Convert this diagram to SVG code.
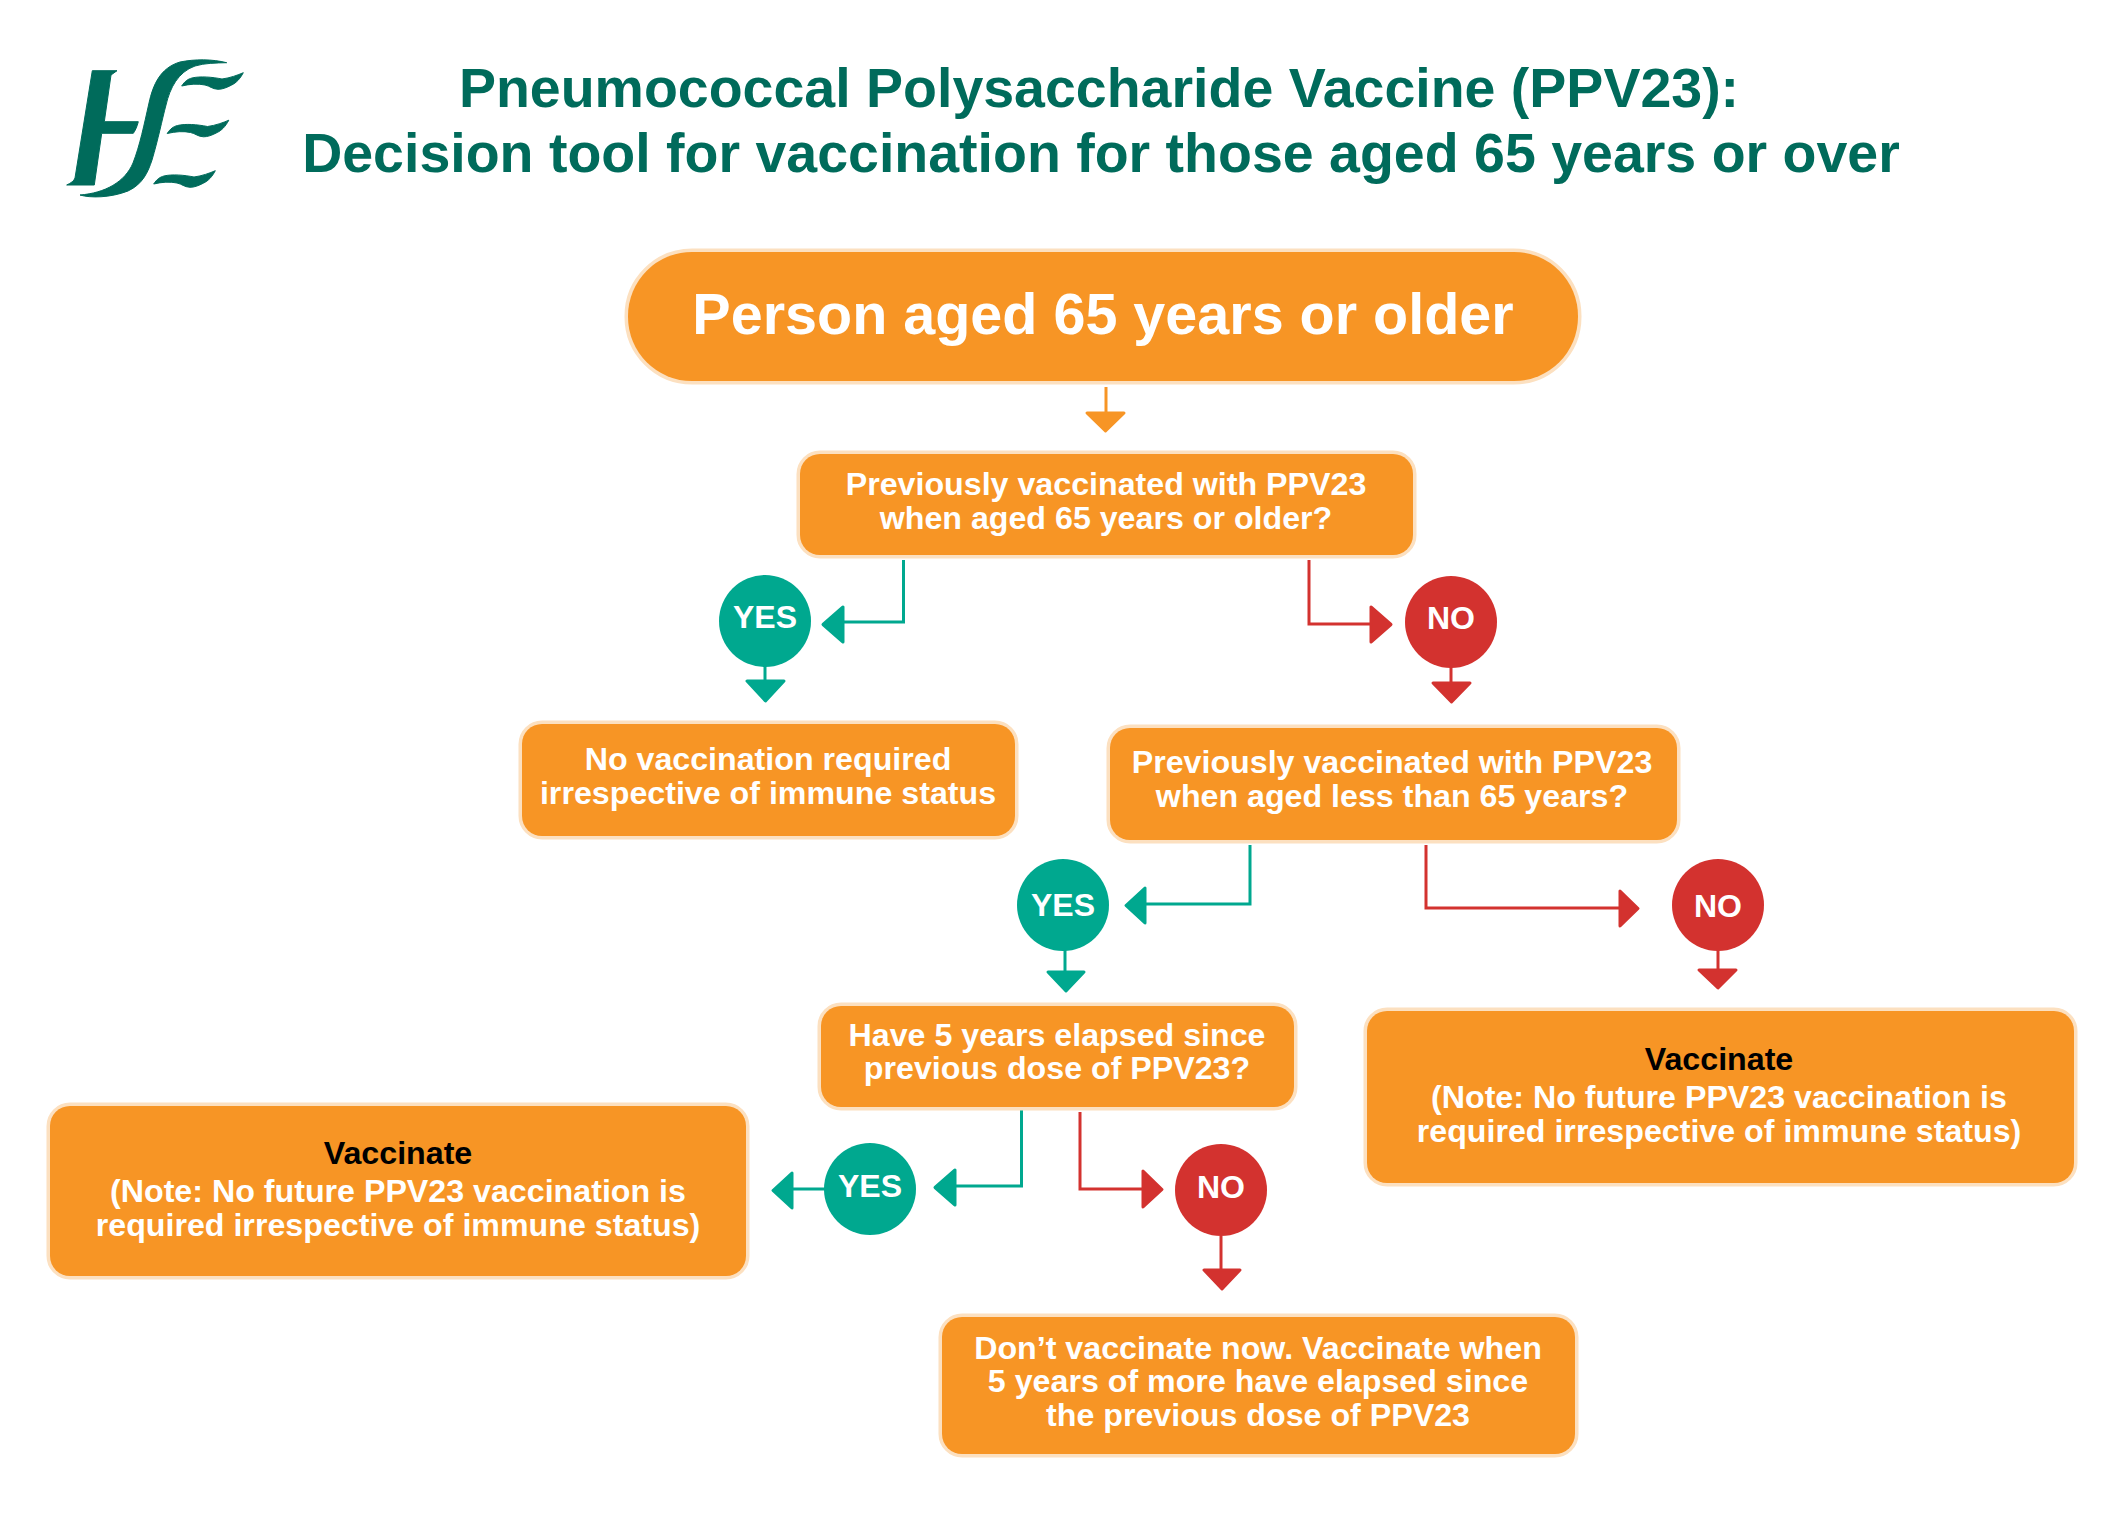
<svg xmlns="http://www.w3.org/2000/svg" width="2121" height="1518" viewBox="0 0 2121 1518">
<style>
text{font-family:"Liberation Sans",Arial,sans-serif;font-weight:700;text-anchor:middle}
.box{fill:#F79525;stroke:#FCE0C0;stroke-width:7;paint-order:stroke}
.t{fill:#fff;font-size:32.2px}
.k{fill:#000;font-size:32.2px}
.yn{fill:#fff;font-size:32px}
.title{fill:#006B5B;font-size:55.500px}
.y{fill:#00A88F}.n{fill:#D3322F}.o{fill:#F79525}
.ly{fill:none;stroke:#00A88F;stroke-width:3}
.ln{fill:none;stroke:#D3322F;stroke-width:3}
.lo{fill:none;stroke:#F79525;stroke-width:3}
.head{stroke-linejoin:round;stroke-width:3}
.logo{fill:#006B5B;stroke:#006B5B;stroke-width:1}
</style>
<defs>
<path id="wave" d="M181.700,86C185,81 188,79 192,78C200,76 212,77 222,79C230,78 238,75 243.300,72.700C240,79 236,83 231.700,85C226,88 222,89.300 218,89.300C212,89 210,86 205,85C198,83.500 190,84 181.700,86Z"/>
</defs>
<rect width="2121" height="1518" fill="#fff"/>
<g id="logo">
<path class="logo" d="M92.300,70.700H117L111,75L104.300,121.700H138.300C137,127 135,131 133.300,133.300H101.700L95,180L94.300,185H66.700C71,183 74,181 75,178Z"/>
<path class="logo" d="M226.700,62.700C212,59 195,59 180,62C160,68 153,85 149,103C144,125 140,145 133,163C125,182 105,193 80,195C90,198 110,198 128,191C143,184 148,172 152,160C158,140 162,120 166,105C170,88 178,72 195,66C205,63 216,63 226.700,62.700Z"/>
<use class="logo" href="#wave"/>
<use class="logo" href="#wave" transform="translate(-14.500,47.500)"/>
<use class="logo" href="#wave" transform="translate(-28,98)"/>
</g>
<g id="title">
<text class="title" x="1099" y="107">Pneumococcal Polysaccharide Vaccine (PPV23):</text>
<text class="title" x="1101" y="172">Decision tool for vaccination for those aged 65 years or over</text>
</g>
<g id="connectors">
<path class="lo" d="M1106,387V414"/><path class="o head" stroke="#F79525" d="M1087,413H1124L1105.500,431Z"/>
<path class="ly" d="M903.500,560V622H842"/><path class="y head" stroke="#00A88F" d="M843,607V642L823,624.500Z"/>
<path class="ln" d="M1309,560V624H1372"/><path class="n head" stroke="#D3322F" d="M1371,607V642L1391,624.500Z"/>
<path class="ly" d="M765,664V682"/><path class="y head" stroke="#00A88F" d="M747,681H784L765.500,701Z"/>
<path class="ln" d="M1451,666V684"/><path class="n head" stroke="#D3322F" d="M1433,683H1470L1451.500,702Z"/>
<path class="ly" d="M1250,845V904H1145"/><path class="y head" stroke="#00A88F" d="M1145,888V923L1126,905.500Z"/>
<path class="ln" d="M1426,845V908H1621"/><path class="n head" stroke="#D3322F" d="M1620,891V926L1638,908.500Z"/>
<path class="ly" d="M1065,950V973"/><path class="y head" stroke="#00A88F" d="M1048,972H1084L1066,991Z"/>
<path class="ln" d="M1718,950V971"/><path class="n head" stroke="#D3322F" d="M1699,970H1736L1718,988Z"/>
<path class="ly" d="M1021.500,1110V1186H953"/><path class="y head" stroke="#00A88F" d="M955,1170V1205L935,1187.500Z"/>
<path class="ly" d="M825,1189H790"/><path class="y head" stroke="#00A88F" d="M792,1173V1208L773,1190.500Z"/>
<path class="ln" d="M1080,1112V1189H1144"/><path class="n head" stroke="#D3322F" d="M1143,1171V1207L1162,1189.500Z"/>
<path class="ln" d="M1221,1236V1271"/><path class="n head" stroke="#D3322F" d="M1204,1270H1240L1222,1289Z"/>
</g>
<g id="n-start"><rect class="box" x="628" y="252" width="950" height="129" rx="64" ry="64"/><text fill="#fff" font-size="57.500" x="1103" y="334">Person aged 65 years or older</text></g>
<g id="n-q1"><rect class="box" x="800" y="454" width="613" height="101" rx="20"/><text class="t" x="1106" y="495">Previously vaccinated with PPV23</text><text class="t" x="1106" y="529">when aged 65 years or older?</text></g>
<g id="n-yes1"><circle class="y" cx="765" cy="621" r="46"/><text class="yn" x="765" y="628">YES</text></g>
<g id="n-no1"><circle class="n" cx="1451" cy="622" r="46"/><text class="yn" x="1451" y="629">NO</text></g>
<g id="n-novacc"><rect class="box" x="522" y="724" width="493" height="112" rx="20"/><text class="t" x="768" y="770">No vaccination required</text><text class="t" x="768" y="804">irrespective of immune status</text></g>
<g id="n-q2"><rect class="box" x="1110" y="728" width="567" height="112" rx="20"/><text class="t" x="1392" y="773">Previously vaccinated with PPV23</text><text class="t" x="1392" y="807">when aged less than 65 years?</text></g>
<g id="n-yes2"><circle class="y" cx="1063" cy="905" r="46"/><text class="yn" x="1063" y="916">YES</text></g>
<g id="n-no2"><circle class="n" cx="1718" cy="905" r="46"/><text class="yn" x="1718" y="917">NO</text></g>
<g id="n-q3"><rect class="box" x="821" y="1006" width="473" height="101" rx="20"/><text class="t" x="1057" y="1046">Have 5 years elapsed since</text><text class="t" x="1057" y="1079">previous dose of PPV23?</text></g>
<g id="n-vacc-right"><rect class="box" x="1367" y="1011" width="707" height="172" rx="20"/><text class="k" x="1719" y="1070">Vaccinate</text><text class="t" x="1719" y="1108">(Note: No future PPV23 vaccination is</text><text class="t" x="1719" y="1142">required irrespective of immune status)</text></g>
<g id="n-vacc-left"><rect class="box" x="50" y="1106" width="696" height="170" rx="20"/><text class="k" x="398" y="1164">Vaccinate</text><text class="t" x="398" y="1202">(Note: No future PPV23 vaccination is</text><text class="t" x="398" y="1236">required irrespective of immune status)</text></g>
<g id="n-yes3"><circle class="y" cx="870" cy="1189" r="46"/><text class="yn" x="870" y="1197">YES</text></g>
<g id="n-no3"><circle class="n" cx="1221" cy="1190" r="46"/><text class="yn" x="1221" y="1198">NO</text></g>
<g id="n-dont"><rect class="box" x="942" y="1317" width="633" height="137" rx="20"/><text class="t" x="1258" y="1359">Don’t vaccinate now. Vaccinate when</text><text class="t" x="1258" y="1392">5 years of more have elapsed since</text><text class="t" x="1258" y="1426">the previous dose of PPV23</text></g>
</svg>
